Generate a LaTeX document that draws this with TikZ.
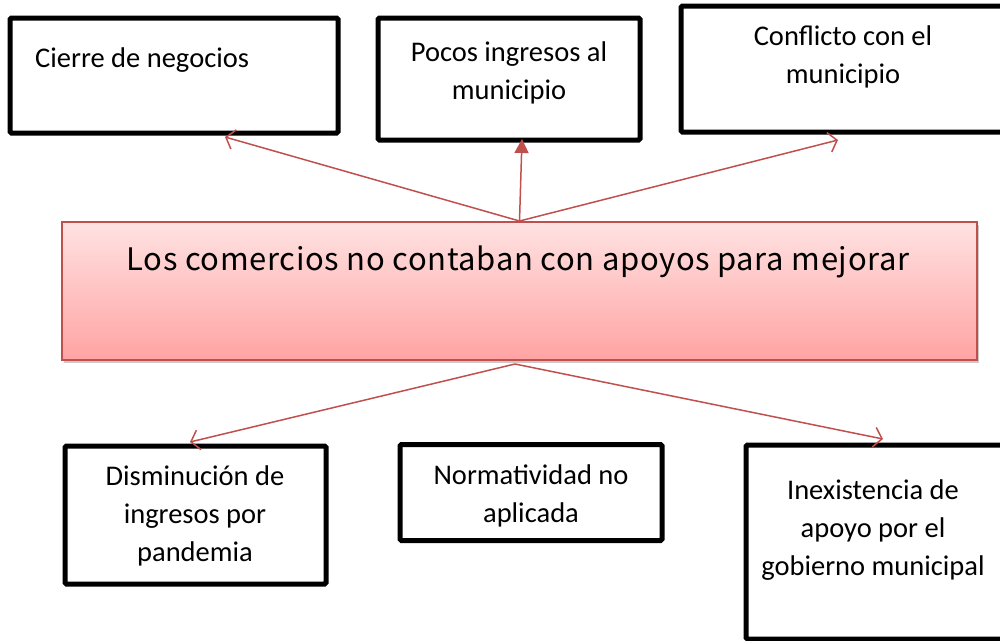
\documentclass[tikz,border=0pt]{standalone}
\usepackage{fontspec}
\setmainfont{Carlito}
\newfontfamily\jpfont[LetterSpace=2]{Noto Sans CJK JP}
\usetikzlibrary{arrows.meta,shadows}
\definecolor{arrowred}{HTML}{C0504D}
\definecolor{pinktop}{HTML}{FFE2E2}
\definecolor{pinkbot}{HTML}{FFA3A3}
\tikzset{
  boxc/.style={draw=black, line width=5pt, rounded corners=1.5pt, fill=white, inner sep=0pt},
  lbl/.style={font=\fontsize{28.5}{38}\selectfont, align=center, inner sep=0pt},
  conn/.style={draw=arrowred, line width=1.5pt},
  openhead/.style={-{Straight Barb[length=8pt,width=20pt,line width=1.5pt]}},
  fillhead/.style={-{Triangle[length=14pt,width=14pt]}}
}
\begin{document}
\begin{tikzpicture}[x=1pt,y=-1pt]
\useasboundingbox (0,0) rectangle (1000,640);
% top boxes
\node[boxc, minimum width=328pt, minimum height=115pt] (b1) at (174,75.5) {};
\node[lbl, anchor=west] (t1) at (35,60) {Cierre de negocios};
\node[boxc, minimum width=262pt, minimum height=122pt] (b2) at (509,79) {};
\node[lbl] (t2) at (509,72.5) {Pocos ingresos al\\municipio};
\node[boxc, minimum width=330pt, minimum height=126pt] (b3) at (846,69) {};
\node[lbl] (t3) at (843,56.5) {Conflicto con el\\municipio};
% central box
\node[draw=arrowred, line width=2pt, top color=pinktop, bottom color=pinkbot,
      drop shadow={shadow xshift=2pt, shadow yshift=-3pt, opacity=0.35, fill=black!60},
      minimum width=915pt, minimum height=138pt, inner sep=0pt] (c) at (519.5,291) {};
\node[font=\jpfont\fontsize{31}{36}\selectfont, inner sep=0pt] (tc) at (518,262) {Los comercios no contaban con apoyos para mejorar};
% bottom boxes
\node[boxc, minimum width=261pt, minimum height=138pt] (b4) at (195.5,515) {};
\node[lbl] (t4) at (195,516) {Disminución de\\ingresos por\\pandemia};
\node[boxc, minimum width=262pt, minimum height=96pt] (b5) at (531,492.5) {};
\node[lbl] (t5) at (531,496) {Normatividad no\\aplicada};
\node[boxc, minimum width=270pt, minimum height=194pt] (b6) at (881,542) {};
\node[lbl] (t6) at (873,530) {Inexistencia de\\apoyo por el\\gobierno municipal};
% arrow end points
\coordinate (e1) at (225,137);
\coordinate (e2) at (522,139);
\coordinate (e3) at (838,140);
\coordinate (e4) at (190,442);
\coordinate (e5) at (883,439);
\coordinate (s2) at (515,364);
% connectors
\draw[conn, openhead] (c.north) -- (e1);
\draw[conn, fillhead] (c.north) -- (e2);
\draw[conn, openhead] (c.north) -- (e3);
\draw[conn, openhead] (s2) -- (e4);
\draw[conn, openhead] (s2) -- (e5);
\end{tikzpicture}
\end{document}
